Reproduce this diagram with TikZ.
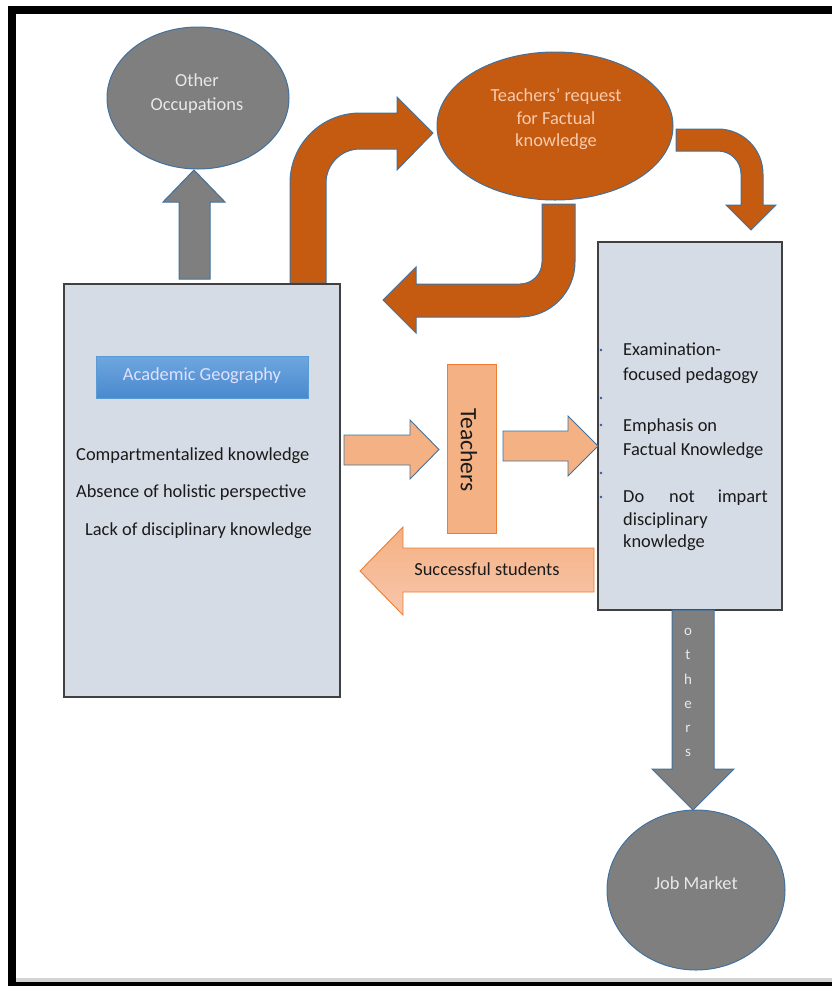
\documentclass[tikz,border=0pt]{standalone}
\usepackage{fontspec}
\setmainfont{Carlito}
\usetikzlibrary{shapes.geometric}
\definecolor{boxfill}{HTML}{D6DCE5}
\definecolor{boxline}{HTML}{404040}
\definecolor{outl}{HTML}{41719C}
\definecolor{graysh}{HTML}{7F7F7F}
\definecolor{rust}{HTML}{C55A11}
\definecolor{peach}{HTML}{F4B183}
\definecolor{peachlt}{HTML}{F8C6AC}
\definecolor{orangeline}{HTML}{ED7D31}
\definecolor{bluetop}{HTML}{6EA7DF}
\definecolor{bluebot}{HTML}{4A89CF}
\definecolor{blueline}{HTML}{5B9BD5}
\definecolor{txt}{HTML}{1A1A1A}
\definecolor{lightpeach}{HTML}{F8CBAD}
\definecolor{lighttxt}{HTML}{E8E8E8}
\definecolor{dotblue}{HTML}{2E5C9A}
\definecolor{framegray}{HTML}{D4D4D4}
\tikzset{
  panel/.style={draw=boxline, line width=1.6pt, fill=boxfill, rectangle, inner sep=0pt},
  grayshape/.style={draw=outl, line width=1pt, fill=graysh},
  rustshape/.style={draw=outl, line width=1pt, fill=rust},
  peachshape/.style={draw=outl, line width=0.9pt, fill=peach},
  bodytxt/.style={text=txt, inner sep=0pt, font=\fontsize{18.4}{22}\selectfont},
  lighttext/.style={text=lighttxt, inner sep=0pt, font=\fontsize{18.4}{22}\selectfont},
  ovalshape/.style={ellipse, draw=outl, line width=1pt, inner sep=0pt},
  letterstyle/.style={text=lighttxt, inner sep=0pt, anchor=base, font=\fontsize{15}{18}\selectfont},
  bulletdot/.style={fill=dotblue}
}
\begin{document}
\begin{tikzpicture}[x=1pt,y=-1pt]
\useasboundingbox (0,0) rectangle (832,986);
% frame
\fill[black] (8,6) rectangle (832,14);
\fill[black] (8,6) rectangle (16,986);
\fill[black] (8,982) rectangle (832,986);
\fill[framegray] (16,978) rectangle (832,982);

% ovals
\node[ovalshape, fill=graysh, minimum width=182pt, minimum height=142pt] (occ) at (198,98) {};
\node[lighttext, anchor=base] (occa) at (197,86) {Other};
\node[lighttext, anchor=base] (occb) at (197,110) {Occupations};

\node[ovalshape, fill=rust, minimum width=236pt, minimum height=148pt] (req) at (555,126) {};
\node[lighttext, text=lightpeach, anchor=base] (reqa) at (556,101) {Teachers’ request};
\node[lighttext, text=lightpeach, anchor=base] (reqb) at (556,124) {for Factual};
\node[lighttext, text=lightpeach, anchor=base] (reqc) at (556,146) {knowledge};

\node[ovalshape, fill=graysh, minimum width=178pt, minimum height=160pt] (job) at (696,890) {};
\node[lighttext, anchor=base] (jobt) at (696,889) {Job Market};

% gray up arrow
\draw[grayshape] (179,279) -- (179,202) -- (163,202) -- (194,170) -- (225,202) -- (210,202) -- (210,279) -- cycle;

% rust curved arrows
\draw[rustshape] (290,283) -- (290,183) arc (180:270:70) -- (397,113) -- (397,97) -- (433,133) -- (397,170) -- (397,149) -- (360,149) arc (270:180:34) -- (326,283) -- cycle;
\draw[rustshape] (676,129) -- (718,129) arc (270:360:45) -- (763,205) -- (776,205) -- (751,230) -- (726,205) -- (741,205) -- (741,174) arc (0:-90:23) -- (676,151) -- cycle;
\draw[rustshape] (542,204) -- (575,204) -- (575,262) arc (0:90:55) -- (416,317) -- (416,333) -- (383,300) -- (416,267) -- (416,284) -- (520,284) arc (90:0:22) -- cycle;

% panels
\node[panel, minimum width=276pt, minimum height=413pt] (lbox) at (202,490.5) {};
\node[panel, minimum width=184pt, minimum height=368pt] (rbox) at (690,426) {};

% academic geography
\node[draw=blueline, line width=0.8pt, top color=bluetop, bottom color=bluebot, minimum width=212pt, minimum height=42pt, inner sep=0pt] (acad) at (202,377) {};
\node[lighttext, text=white!88!blue, anchor=base] (acadt) at (202,380) {Academic Geography};

\node[bodytxt, anchor=base west] (l1) at (76,460) {Compartmentalized knowledge};
\node[bodytxt, anchor=base west] (l2) at (76,497) {Absence of holistic perspective};
\node[bodytxt, anchor=base west] (l3) at (85,535) {Lack of disciplinary knowledge};

% right box text
\node[bodytxt, anchor=base west] (r1) at (623,355) {Examination-};
\node[bodytxt, anchor=base west] (r2) at (623,380) {focused pedagogy};
\node[bodytxt, anchor=base west] (r3) at (623,431) {Emphasis on};
\node[bodytxt, anchor=base west] (r4) at (623,455) {Factual Knowledge};
\node[bodytxt, anchor=base west] (r5a) at (623,502) {Do};
\node[bodytxt, anchor=base west] (r5b) at (669,502) {not};
\node[bodytxt, anchor=base east] (r5c) at (768,502) {impart};
\node[bodytxt, anchor=base west] (r6) at (623,525) {disciplinary};
\node[bodytxt, anchor=base west] (r7) at (623,547) {knowledge};
\foreach \yy in {350,398,425,473,497} \fill[bulletdot] (601,\yy) circle (1.3);

% teachers box
\node[draw=orangeline, line width=0.9pt, fill=peach, minimum width=49pt, minimum height=169pt, inner sep=0pt] (teach) at (471.5,448.5) {};
\node[text=txt, rotate=-90, inner sep=0pt, font=\fontsize{23.5}{26}\selectfont] (teacht) at (469,450) {Teachers};

% peach arrows
\draw[peachshape] (344,435) -- (410,435) -- (410,420) -- (439,449.5) -- (410,479) -- (410,465) -- (344,465) -- cycle;
\draw[peachshape] (503,431) -- (568,431) -- (568,416) -- (598,446) -- (568,476) -- (568,461) -- (503,461) -- cycle;

% successful students
\path[draw=orangeline, line width=0.9pt, top color=peach, bottom color=peachlt] (594,548) -- (403,548) -- (403,527) -- (360,571) -- (403,615) -- (403,592) -- (594,592) -- cycle;
\node[bodytxt, anchor=base] (succ) at (487,575) {Successful students};

% others arrow
\draw[grayshape] (672,610) -- (714,610) -- (714,769) -- (734,769) -- (693,810) -- (652,769) -- (672,769) -- cycle;
\node[letterstyle] (o1) at (688,635) {o};
\node[letterstyle] (o2) at (688,659) {t};
\node[letterstyle] (o3) at (688,684) {h};
\node[letterstyle] (o4) at (688,708) {e};
\node[letterstyle] (o5) at (688,732) {r};
\node[letterstyle] (o6) at (688,756) {s};
\end{tikzpicture}
\end{document}
